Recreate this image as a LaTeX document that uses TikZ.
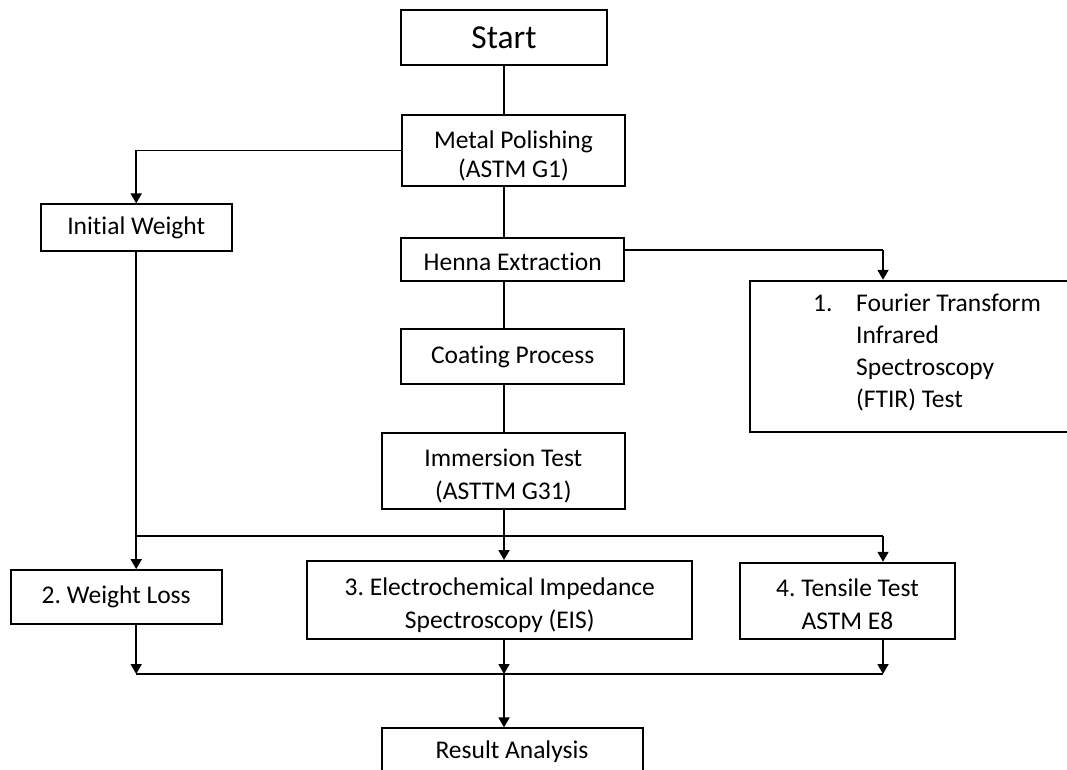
\documentclass[tikz,border=0pt]{standalone}
\usepackage{fontspec}
\setmainfont[Ligatures={NoCommon}]{Carlito}
\usetikzlibrary{arrows.meta}
\frenchspacing
\newcommand{\topstrut}[1]{\rule{0pt}{#1pt}}
\begin{document}
\begin{tikzpicture}[x=1pt,y=-1pt,
  box/.style={draw=black, line width=1.8pt, rectangle, inner sep=0pt, align=center,
    font=\fontsize{25.5}{33}\selectfont},
  conn/.style={line width=1.8pt, draw=black},
  arr/.style={conn, -{Triangle[width=11pt,length=10pt]}},
  lbl/.style={inner sep=0pt, align=left, font=\fontsize{25.5}{32}\selectfont}]
\path[use as bounding box, clip] (0,0) rectangle (1067,769);
% boxes
\node[box, minimum width=206pt, minimum height=55pt, font=\fontsize{33.5}{38}\selectfont] (start) at (504,37.5) {Start};
\node[box, minimum width=223pt, minimum height=71pt, font=\fontsize{25.5}{29}\selectfont] (metal) at (513.5,150.5) {\topstrut{28}Metal Polishing\\(ASTM G1)};
\node[box, minimum width=191pt, minimum height=46.4pt] (init) at (136.2,227.5) {Initial Weight};
\node[box, minimum width=223pt, minimum height=42.4pt] (henna) at (512.7,259.5) {\topstrut{22}Henna Extraction};
\node[box, minimum width=340pt, minimum height=151.6pt] (ftir) at (920,356.5) {};
\node[lbl, anchor=north west] (ftirtext) at (813,294) {\makebox[43pt][l]{1.}Fourier Transform\\\hspace*{43pt}Infrared\\\hspace*{43pt}Spectroscopy\\\hspace*{43pt}(FTIR) Test};
\node[box, minimum width=223pt, minimum height=55pt] (coat) at (512.7,356.8) {Coating Process};
\node[box, minimum width=243.3pt, minimum height=76.6pt] (imm) at (503.3,471) {\topstrut{28}Immersion Test\\(ASTTM G31)};
\node[box, minimum width=211pt, minimum height=54.3pt] (wl) at (116.2,597.2) {2. Weight Loss};
\node[box, minimum width=385pt, minimum height=77.7pt] (eis) at (499.8,599.8) {\topstrut{28}3. Electrochemical Impedance\\Spectroscopy (EIS)};
\node[box, minimum width=215pt, minimum height=76.3pt] (tens) at (847.5,600.8) {\topstrut{24}4. Tensile Test\\ASTM E8};
\node[box, minimum width=261pt, minimum height=72pt] (res) at (512.2,764.3) {};
\node[lbl, font=\fontsize{25.5}{32}\selectfont] (restext) at (512,752) {Result Analysis};
% junction coordinates
\coordinate (ftirin) at (883,250);
\coordinate (bl) at (136.2,536);
\coordinate (br) at (883,536);
\coordinate (jl) at (136.2,674);
\coordinate (jm) at (504,674);
\coordinate (jr) at (883,674);
% connectors
\draw[conn] (start.south) -- (start.south |- metal.north);
\draw[arr] (metal.west) -| (init.north);
\draw[conn] (start.south |- metal.south) -- (start.south |- henna.north);
\draw[conn] (henna.east |- ftirin) -- (ftirin);
\draw[arr] (ftirin) -- (ftirin |- ftir.north);
\draw[conn] (start.south |- henna.south) -- (start.south |- coat.north);
\draw[conn] (start.south |- coat.south) -- (start.south |- imm.north);
\draw[arr] (start.south |- imm.south) -- (start.south |- eis.north);
\draw[arr] (init.south) -- (init.south |- wl.north);
\draw[conn] (bl) -- (br);
\draw[arr] (br) -- (br |- tens.north);
\draw[arr] (init.south |- wl.south) -- (jl);
\draw[arr] (start.south |- eis.south) -- (jm);
\draw[arr] (br |- tens.south) -- (jr);
\draw[conn] (jl) -- (jr);
\draw[arr] (jm) -- (jm |- res.north);
\end{tikzpicture}
\end{document}
